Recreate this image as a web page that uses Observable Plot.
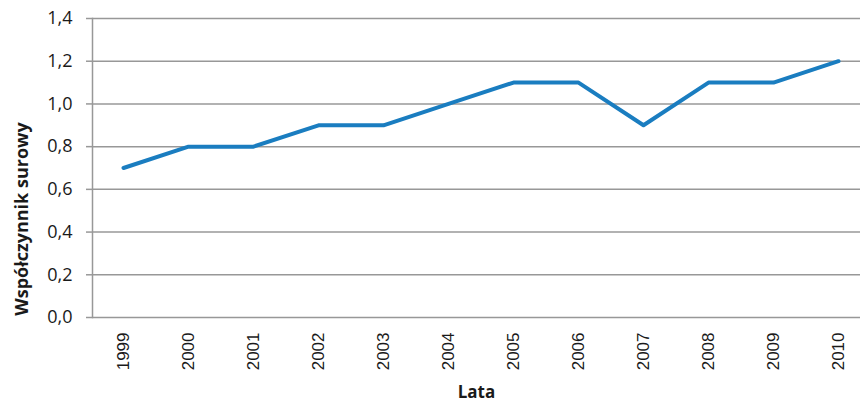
<!DOCTYPE html>
<html>
<head>
<meta charset="utf-8">
<script src="https://cdn.jsdelivr.net/npm/d3@7"></script>
<script src="https://cdn.jsdelivr.net/npm/@observablehq/plot@0.6"></script>
<style>
  html, body { margin: 0; padding: 0; background: #fff; }
  svg { display: block; }
</style>
</head>
<body>
<div id="chart"></div>
<script>
const years = ["1999","2000","2001","2002","2003","2004","2005","2006","2007","2008","2009","2010"];
const values = [0.7, 0.8, 0.8, 0.9, 0.9, 1.0, 1.1, 1.1, 0.9, 1.1, 1.1, 1.2];
const yTicks = [0, 0.2, 0.4, 0.6, 0.8, 1.0, 1.2, 1.4];
const xTitle = "Lata";
const yTitle = "Współczynnik surowy";

const data = years.map((y, i) => ({year: y, value: values[i]}));
const fmt = d => d.toFixed(1).replace(".", ",");

const chart = Plot.plot({
  width: 860,
  height: 403,
  marginLeft: 92,
  marginRight: 0,
  marginTop: 18,
  marginBottom: 86,
  style: {fontFamily: "'Open Sans', sans-serif", background: "#fff"},
  x: {type: "point", domain: years, range: [123, 838], padding: 0},
  y: {domain: [0, 1.4]},
  marks: [
    Plot.ruleY(yTicks, {stroke: "#989898", strokeWidth: 1.5}),
    Plot.frame({anchor: "left", stroke: "#989898", strokeWidth: 1.5}),
    Plot.axisY({ticks: yTicks, tickFormat: fmt, tickSize: 6, tickPadding: 14, fontSize: 18, stroke: "#989898", strokeWidth: 1.5, label: null, color: "#1a1a1a"}),
    Plot.axisX({tickRotate: -90, tickSize: 0, tickPadding: 15, fontSize: 17, fontFamily: "'Liberation Sans', Arial, sans-serif", label: null, color: "#1a1a1a"}),
    Plot.line(data, {x: "year", y: "value", stroke: "#1a7dc0", strokeWidth: 4, strokeLinejoin: "round", strokeLinecap: "round"}),
    Plot.text([xTitle], {frameAnchor: "bottom", dy: 75, lineAnchor: "middle", textAnchor: "middle", fontSize: 17, fontWeight: "bold", fill: "#1a1a1a"}),
    Plot.text([yTitle], {frameAnchor: "left", dx: -70, dy: 51, rotate: -90, textAnchor: "middle", lineAnchor: "middle", fontSize: 18, fontWeight: "bold", fill: "#1a1a1a"})
  ]
});
document.getElementById("chart").appendChild(chart);
</script>
</body>
</html>
